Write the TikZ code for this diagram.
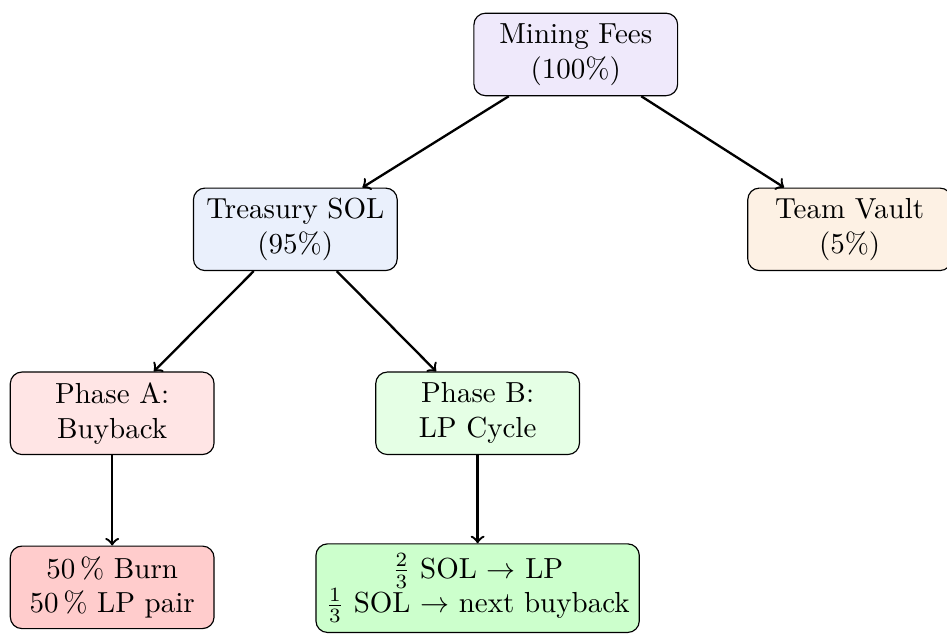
\documentclass[tikz,border=0pt]{standalone}
\usepackage{amsmath}
\usepackage{tikz}
\usepackage{xcolor}

\definecolor{feecol}{HTML}{EFE9FB}
\definecolor{treascol}{HTML}{EAF0FC}
\definecolor{teamcol}{HTML}{FDF1E4}
\definecolor{phaseAcol}{HTML}{FFE5E5}
\definecolor{phaseBcol}{HTML}{E5FFE5}
\definecolor{burncol}{HTML}{FFCCCC}
\definecolor{lpcol}{HTML}{CCFFCC}

\tikzset{
  flowbox/.style={draw, rounded corners=4pt, align=center, minimum width=2.47cm, minimum height=1cm},
  flowarrow/.style={->, thick}
}

\begin{document}
\begin{tikzpicture}
  \useasboundingbox (0,0) rectangle (11.48,7.7);
  \node[flowbox, fill=feecol] (fees) at (6.98,7.04) {Mining Fees\\(100\%)};
  \node[flowbox, fill=treascol] (treasury) at (3.58,4.92) {Treasury SOL\\(95\%)};
  \node[flowbox, fill=teamcol] (team) at (10.3,4.92) {Team Vault\\(5\%)};
  \node[flowbox, fill=phaseAcol] (phaseA) at (1.36,2.69) {Phase A:\\Buyback};
  \node[flowbox, fill=phaseBcol] (phaseB) at (5.79,2.69) {Phase B:\\LP Cycle};
  \node[flowbox, fill=burncol] (burn) at (1.36,0.58) {50\,\% Burn\\50\,\% LP pair};
  \node[flowbox, fill=lpcol] (lp) at (5.79,0.57) {$\frac{2}{3}$ SOL $\rightarrow$ LP\\$\frac{1}{3}$ SOL $\rightarrow$ next buyback};
  \draw[flowarrow] (fees) -- (treasury);
  \draw[flowarrow] (fees) -- (team);
  \draw[flowarrow] (treasury) -- (phaseA);
  \draw[flowarrow] (treasury) -- (phaseB);
  \draw[flowarrow] (phaseA) -- (burn);
  \draw[flowarrow] (phaseB) -- (lp);
\end{tikzpicture}
\end{document}
